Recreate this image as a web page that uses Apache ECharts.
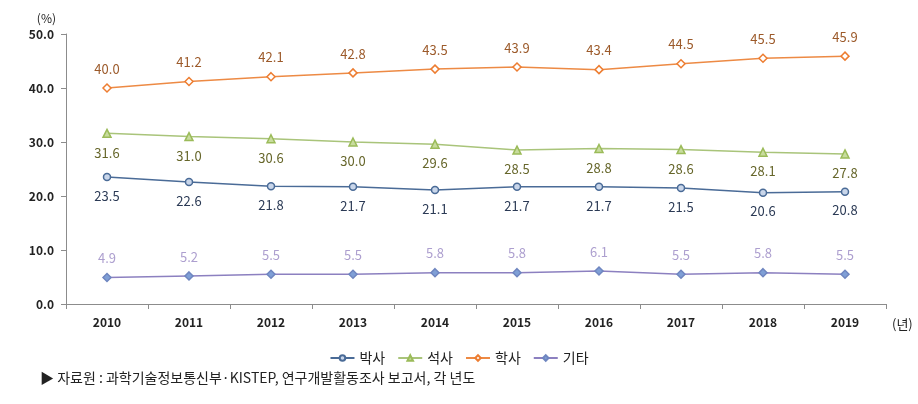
<!DOCTYPE html>
<html><head><meta charset="utf-8">
<script src="https://cdn.jsdelivr.net/npm/echarts@6/dist/echarts.min.js"></script>
<style>html,body{margin:0;padding:0;background:#fff}#c{width:918px;height:404px}</style>
</head><body><div id="c"></div>
<script>
const years = ['2010','2011','2012','2013','2014','2015','2016','2017','2018','2019'];
const phd = [23.5,22.6,21.8,21.7,21.1,21.7,21.7,21.5,20.6,20.8];
const master = [31.6,31.0,30.6,30.0,29.6,28.5,28.8,28.6,28.1,27.8];
const bachelor = [40.0,41.2,42.1,42.8,43.5,43.9,43.4,44.5,45.5,45.9];
const other = [4.9,5.2,5.5,5.5,5.8,5.8,6.1,5.5,5.8,5.5];
const seriesNames = ['박사','석사','학사','기타'];
const yTicks = [0,10,20,30,40,50];

const F = '"Noto Sans CJK KR","Noto Sans",sans-serif';
function mk(name, data, lineColor, symbol, fill, border, labelColor, pos, size) {
  return {
    name, type:'line', data, symbol, symbolSize:size,
    lineStyle:{color:lineColor,width:1.5},
    itemStyle:{color:fill,borderColor:border,borderWidth:1.5},
    label:{show:true,position:pos,distance:8,color:labelColor,fontFamily:F,fontSize:13,
      formatter:p=>p.value.toFixed(1)},
    emphasis:{disabled:true}, animation:false
  };
}
const chart = echarts.init(document.getElementById('c'));
chart.setOption({
  animation:false,
  grid:{left:66,right:32,top:34,bottom:100,containLabel:false},
  legend:{bottom:34,left:'center',itemWidth:24,itemHeight:7,itemGap:12,
    textStyle:{fontFamily:F,fontSize:14,color:'#222'},data:seriesNames},
  xAxis:{type:'category',data:years,boundaryGap:true,
    axisLine:{lineStyle:{color:'#8c8c8c'}},
    axisTick:{show:true,alignWithLabel:false,length:5,lineStyle:{color:'#8c8c8c'}},
    axisLabel:{color:'#222',fontFamily:F,fontSize:12,fontWeight:'bold',margin:12},
    name:'(년)',nameLocation:'end',nameGap:6,
    nameTextStyle:{color:'#222',fontFamily:F,fontSize:13,verticalAlign:'top',padding:[14,0,0,0]}},
  yAxis:{type:'value',min:0,max:50,interval:10,
    axisLine:{show:true,lineStyle:{color:'#8c8c8c'}},
    axisTick:{show:true,length:5,lineStyle:{color:'#8c8c8c'}},
    splitLine:{show:false},
    axisLabel:{color:'#222',fontFamily:F,fontSize:12,fontWeight:'bold',margin:12,
      formatter:v=>yTicks.includes(v)?v.toFixed(1):''},
    name:'(%)',nameLocation:'end',nameGap:10,
    nameTextStyle:{color:'#222',fontFamily:F,fontSize:12,align:'right',padding:[0,10,0,0]}},
  graphic:[{type:'text',left:40,top:371,style:{text:'▶ 자료원 : 과학기술정보통신부·KISTEP, 연구개발활동조사 보고서, 각 년도',
    font:'14px "Noto Sans CJK KR"',fill:'#222'}}],
  series:[
    mk('박사',phd,'#4a6b97','circle','#c9d6ea','#4a6b97','#2b3a55','bottom',7),
    mk('석사',master,'#a9c47a','triangle','#c8dc9e','#9bbb59','#66662a','bottom',8),
    mk('학사',bachelor,'#ed8a44','diamond','#ffffff','#ed7d31','#9c5a2a','top',8),
    mk('기타',other,'#8c80c0','diamond','#7f9fd6','#6f86c0','#ad9fcf','top',8)
  ]
});
</script></body></html>
